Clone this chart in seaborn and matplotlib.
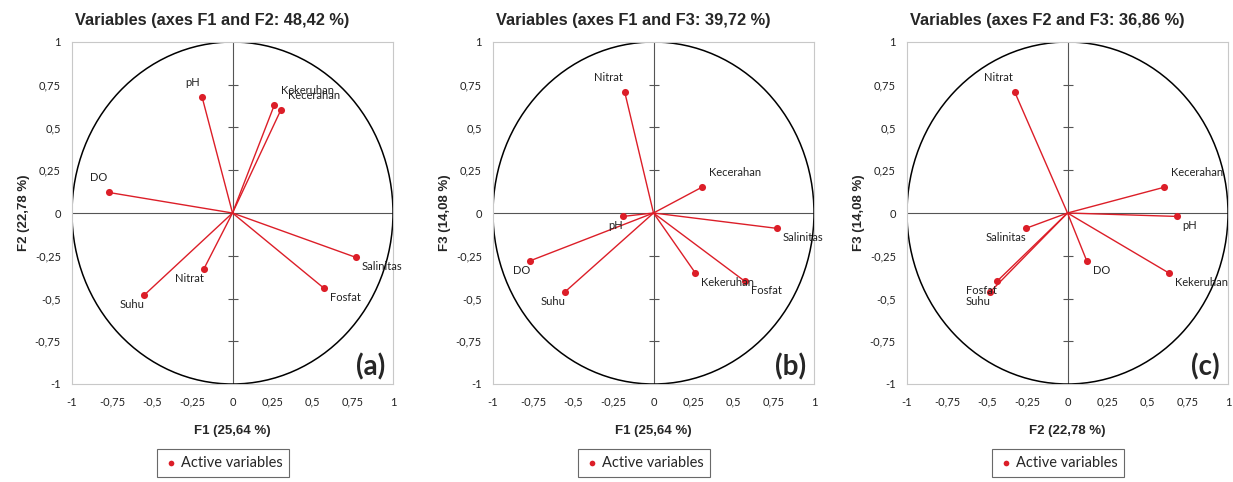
import numpy as np
import pandas as pd
import matplotlib
matplotlib.use("Agg")
import matplotlib.pyplot as plt
from matplotlib.patches import Circle
import seaborn as sns

# correlation of each variable with the factors
variables = ["DO", "pH", "Kecerahan", "Kekeruhan", "Salinitas", "Fosfat", "Nitrat", "Suhu"]
f1 = [-0.77, -0.19, 0.30, 0.26, 0.77, 0.57, -0.18, -0.55]
f2 = [0.12, 0.68, 0.60, 0.63, -0.26, -0.44, -0.33, -0.48]
f3 = [-0.28, -0.02, 0.15, -0.35, -0.09, -0.40, 0.71, -0.46]

titles = ["Variables (axes F1 and F2: 48,42 %)",
          "Variables (axes F1 and F3: 39,72 %)",
          "Variables (axes F2 and F3: 36,86 %)"]
axis_labels = {"F1": "F1 (25,64 %)", "F2": "F2 (22,78 %)", "F3": "F3 (14,08 %)"}
pairs = [("F1", "F2"), ("F1", "F3"), ("F2", "F3")]
letters = ["(a)", "(b)", "(c)"]
tick_vals = [-1, -0.75, -0.5, -0.25, 0, 0.25, 0.5, 0.75, 1]
tick_text = ["-1", "-0,75", "-0,5", "-0,25", "0", "0,25", "0,5", "0,75", "1"]

df = pd.DataFrame({"var": variables, "F1": f1, "F2": f2, "F3": f3})

# where each label sits relative to its point (u/d = above/below, l/r = left/right)
placement = [
    {"DO": "ul", "pH": "ul", "Kecerahan": "ur", "Kekeruhan": "ur", "Salinitas": "dr",
     "Fosfat": "dr", "Nitrat": "dl", "Suhu": "dl"},
    {"DO": "dl", "pH": "dl", "Kecerahan": "ur", "Kekeruhan": "dr", "Salinitas": "dr",
     "Fosfat": "dr", "Nitrat": "ul", "Suhu": "dl"},
    {"DO": "dr", "pH": "dr", "Kecerahan": "ur", "Kekeruhan": "dr", "Salinitas": "dl",
     "Fosfat": "dl", "Nitrat": "ul", "Suhu": "dl"},
]
offsets = {"ul": (-2, 9, "right", "bottom"), "ur": (7, 9, "left", "bottom"),
           "dl": (0, -4, "right", "top"), "dr": (6, -4, "left", "top")}

sns.set_style("white")
plt.rcParams["font.family"] = ["Lato", "DejaVu Sans"]

RED = "#dc1e28"
W, H = 1233, 482
fig = plt.figure(figsize=(W / 100, H / 100), dpi=100)
lefts = [72, 493, 907]

for i, (xc, yc) in enumerate(pairs):
    ax = fig.add_axes([lefts[i] / W, (H - 384) / H, 321 / W, 342 / H])
    ax.set_xlim(-1, 1)
    ax.set_ylim(-1, 1)

    ax.axhline(0, color="#555555", lw=0.8, zorder=1)
    ax.axvline(0, color="#555555", lw=0.8, zorder=1)
    minor = [-0.75, -0.5, -0.25, 0.25, 0.5, 0.75]
    ax.plot(np.zeros(len(minor)), minor, ls="none", marker="_", ms=7, mew=0.8,
            color="#555555", zorder=1)
    ax.add_patch(Circle((0, 0), 1, fill=False, ec="black", lw=1.1, zorder=2))

    for _, r in df.iterrows():
        ax.plot([0, r[xc]], [0, r[yc]], color=RED, lw=1.0, zorder=3)
    sns.scatterplot(data=df, x=xc, y=yc, color=RED, s=26, linewidth=0,
                    label="Active variables", ax=ax, zorder=4)

    for _, r in df.iterrows():
        dx, dy, ha, va = offsets[placement[i][r["var"]]]
        ax.annotate(r["var"], (r[xc], r[yc]), xytext=(dx, dy), textcoords="offset pixels",
                    ha=ha, va=va, fontsize=8, color="#222222", zorder=5)

    ax.set_xticks(tick_vals)
    ax.set_yticks(tick_vals)
    ax.set_xticklabels(tick_text)
    ax.set_yticklabels(tick_text)
    ax.tick_params(length=0, labelsize=8, labelcolor="#222222")
    ax.tick_params(axis="x", pad=9)
    ax.tick_params(axis="y", pad=8)
    for s in ax.spines.values():
        s.set_color("#c8c8c8")
        s.set_linewidth(0.8)

    ax.set_xlabel(axis_labels[xc], fontsize=9.5, fontweight="bold",
                  family=["Liberation Sans", "DejaVu Sans"])
    ax.set_ylabel(axis_labels[yc], fontsize=9.5, fontweight="bold",
                  family=["Liberation Sans", "DejaVu Sans"])
    ax.xaxis.set_label_coords(0.5, -0.12)
    ax.yaxis.set_label_coords(-0.13, 0.5)

    ax.text(0.438, 1.062, titles[i], transform=ax.transAxes, ha="center", va="center",
            fontsize=11.8, fontweight="bold",
            family=["Liberation Sans", "DejaVu Sans"])
    ax.text(0.975, 0.01, letters[i], transform=ax.transAxes, ha="right", va="bottom",
            fontsize=20, fontweight="bold")

    leg = ax.legend(loc="center", bbox_to_anchor=(0.47, -0.231), fancybox=False,
                    frameon=True, edgecolor="#444444", fontsize=10.5, handletextpad=0.2,
                    handlelength=1.0, borderpad=0.45, markerscale=0.8)
    leg.get_frame().set_linewidth(0.8)

fig.savefig("out.png", dpi=100)
